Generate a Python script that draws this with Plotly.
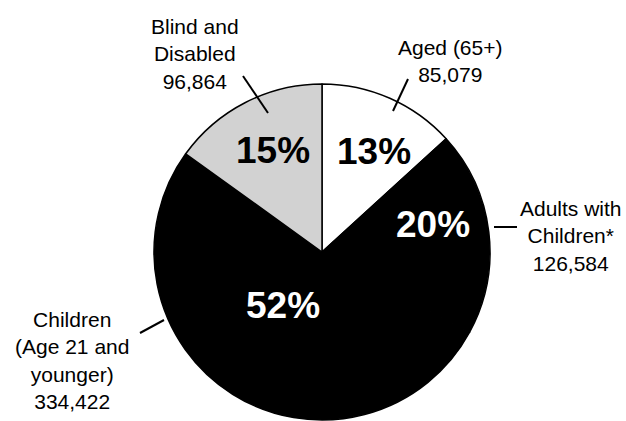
import plotly.graph_objects as go

# Data
categories = ["Aged (65+)", "Adults with Children*", "Children (Age 21 and younger)", "Blind and Disabled"]
label_texts = ["Aged (65+)<br>85,079", "Adults with<br>Children*<br>126,584",
               "Children<br>(Age 21 and<br>younger)<br>334,422", "Blind and<br>Disabled<br>96,864"]
values = [85079, 126584, 334422, 96864]
slice_colors = ["#ffffff", "#000000", "#000000", "#d2d2d2"]
pct_colors = ["#000000", "#ffffff", "#ffffff", "#000000"]

W, H = 626, 421
cx, cy, r = 322, 252, 168

def px(x):
    return x / W

def py(y):
    return 1 - y / H

fig = go.Figure()
fig.add_trace(go.Pie(
    labels=categories,
    values=values,
    sort=False,
    direction="clockwise",
    rotation=0,
    textinfo="none",
    hoverinfo="label+value+percent",
    marker=dict(colors=slice_colors, line=dict(color="#000000", width=1.5)),
    domain=dict(x=[px(cx - r), px(cx + r)], y=[py(cy + r), py(cy - r)]),
    showlegend=False,
))

total = sum(values)
pct_pos = [(374, 151), (433, 224), (283, 305), (273, 150)]
outer_pos = [(450, 61), (571, 236), (72, 360), (195, 54)]
leaders = [((408, 79), (393, 111)), ((494, 227), (517, 227)),
           ((140, 333), (164, 320)), ((243, 76), (268, 113))]

annotations = []
shapes = []
for i, v in enumerate(values):
    pct = round(v / total * 100)
    x, y = pct_pos[i]
    annotations.append(dict(
        x=px(x), y=py(y), xref="paper", yref="paper", showarrow=False,
        text=f"<b>{pct}%</b>", font=dict(family="Liberation Sans, Arial, sans-serif", size=37, color=pct_colors[i]),
        xanchor="center", yanchor="middle"))
    ox, oy = outer_pos[i]
    annotations.append(dict(
        x=px(ox), y=py(oy), xref="paper", yref="paper", showarrow=False,
        text=label_texts[i], font=dict(family="Liberation Sans, Arial, sans-serif", size=21, color="#000000"),
        xanchor="center", yanchor="middle", align="center"))
    (x0, y0), (x1, y1) = leaders[i]
    shapes.append(dict(type="line", xref="paper", yref="paper",
                       x0=px(x0), y0=py(y0), x1=px(x1), y1=py(y1),
                       line=dict(color="#000000", width=2)))

fig.update_layout(
    width=W, height=H,
    margin=dict(l=0, r=0, t=0, b=0),
    paper_bgcolor="#ffffff",
    plot_bgcolor="#ffffff",
    annotations=annotations,
    shapes=shapes,
)

fig.write_html("out.html")
